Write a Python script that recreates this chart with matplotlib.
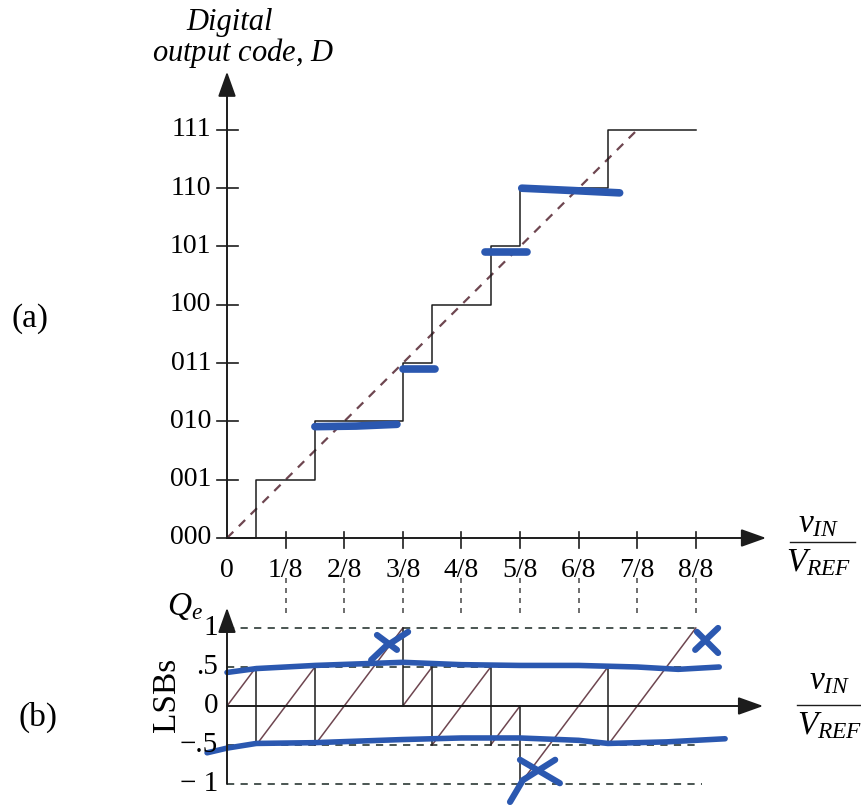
import numpy as np
import matplotlib
matplotlib.use("Agg")
import matplotlib.pyplot as plt

plt.rcParams['font.family'] = ['Liberation Serif', 'DejaVu Serif']
plt.rcParams['mathtext.fontset'] = 'custom'
plt.rcParams['mathtext.rm'] = 'Liberation Serif'
plt.rcParams['mathtext.it'] = 'Liberation Serif:italic'

# ---- data (x in eighths of V_REF = LSBs) ----
codes = ['000', '001', '010', '011', '100', '101', '110', '111']
x_ticks = ['0', '1/8', '2/8', '3/8', '4/8', '5/8', '6/8', '7/8', '8/8']
# input levels where the output code steps up (non-ideal converter)
transitions = [0.5, 1.5, 3.0, 3.5, 4.5, 5.0, 6.5]
full_scale = 8.0

# hand-drawn blue marks on the transfer curve (x, code)
blue_top = [
    ([1.5, 2.2, 2.9], [1.91, 1.92, 1.95]),
    ([3.0, 3.55], [2.90, 2.90]),
    ([4.4, 5.12], [4.91, 4.91]),
    ([5.03, 5.9, 6.7], [6.0, 5.96, 5.92]),
]
# hand-drawn blue envelope lines on the error plot (x, LSB)
blue_upper_x = [0, 0.5, 1.5, 3.0, 4.0, 5.0, 6.0, 7.0, 7.7, 8.4]
blue_upper_y = [0.43, 0.48, 0.52, 0.56, 0.53, 0.52, 0.52, 0.50, 0.47, 0.50]
blue_lower_x = [-0.34, 0, 0.5, 1.5, 3.0, 4.0, 5.0, 6.0, 6.5, 7.5, 8.5]
blue_lower_y = [-0.60, -0.54, -0.48, -0.47, -0.43, -0.41, -0.41, -0.44, -0.48, -0.46, -0.42]
# blue crosses, each as two strokes
crosses = [
    ([2.46, 2.7, 3.09], [0.59, 0.76, 0.95], [2.56, 2.9], [0.91, 0.72]),
    ([4.83, 5.05, 5.6], [-1.23, -0.95, -0.69], [5.0, 5.68], [-0.69, -0.99]),
    ([7.99, 8.38], [0.72, 1.0], [8.02, 8.38], [0.95, 0.68]),
]

black = '#1c1c1c'
maroon = '#6e4650'
dgray = '#3c4844'
blue = '#2b58b0'

fig = plt.figure(figsize=(8.62, 8.05), dpi=100)
W, H = 862, 805
px_x = 58.6      # pixels per eighth
x0 = 227
top_y0, top_py = 538, 58.3
bot_y0, bot_py = 706, 78.0
split = 575

ax1 = fig.add_axes([0, 1 - split / H, 1, split / H])
ax1.set_xlim(-x0 / px_x, (W - x0) / px_x)
ax1.set_ylim((top_y0 - split) / top_py, top_y0 / top_py)
ax1.axis('off')

ax2 = fig.add_axes([0, 0, 1, (H - split) / H])
ax2.set_xlim(-x0 / px_x, (W - x0) / px_x)
ax2.set_ylim((bot_y0 - H) / bot_py, (bot_y0 - split) / bot_py)
ax2.axis('off')

arrow = dict(arrowstyle='-|>,head_length=0.7,head_width=0.25', color=black,
             lw=1.4, mutation_scale=22, shrinkA=0, shrinkB=0)

# ---- (a) transfer characteristic ----
ax1.annotate('', xy=(0, 8.0), xytext=(0, 0), arrowprops=arrow)
ax1.annotate('', xy=(9.2, 0), xytext=(0, 0), arrowprops=arrow)

for k, c in enumerate(codes):
    ax1.plot([-0.17, 0.19], [k, k], color=black, lw=1.2)
    ax1.text(-0.27, k, c, ha='right', va='center', fontsize=20)
for k, t in enumerate(x_ticks):
    if k > 0:
        ax1.plot([k, k], [-0.18, 0.11], color=black, lw=1.2)
    ax1.text(k, -0.55, t, ha='center', va='center', fontsize=20)

# ideal line
ax1.plot([0, 7], [0, 7], color=maroon, lw=1.6, ls=(0, (4, 3.5)))

# staircase
step_x = [0] + transitions + [full_scale]
step_y = list(range(len(codes))) + [len(codes) - 1]
ax1.step(step_x, step_y, where='post', color=black, lw=1.1)

for bx, by in blue_top:
    ax1.plot(bx, by, color=blue, lw=5.5, solid_capstyle='round')

ax1.text(0.05, 8.85, 'Digital', ha='center', va='center', fontsize=22, style='italic')
ax1.text(0.27, 8.32, 'output code, $D$', ha='center', va='center', fontsize=22, style='italic')
ax1.text(-3.36, 3.77, '(a)', ha='center', va='center', fontsize=24)

ax1.text(10.1, -0.02, '$v_{IN}$', ha='center', va='bottom', fontsize=24)
ax1.plot([9.61, 10.72], [-0.07, -0.07], color=black, lw=1.0, clip_on=False)
ax1.text(10.1, -0.16, '$V_{REF}$', ha='center', va='top', fontsize=24)

# ---- (b) quantization error ----
ax2.annotate('', xy=(0, 1.26), xytext=(0, -1.0), arrowprops=arrow)
ax2.annotate('', xy=(9.15, 0), xytext=(0, 0), arrowprops=arrow)

ax2.plot([0, 8], [1, 1], color=dgray, lw=1.3, ls=(0, (4, 3.5)))
ax2.plot([0, 8.1], [-1, -1], color=dgray, lw=1.3, ls=(0, (4, 3.5)))
ax2.plot([0, 8], [0.5, 0.5], color=dgray, lw=1.3, ls=(0, (4, 3.5)))
ax2.plot([0, 8], [-0.5, -0.5], color=dgray, lw=1.3, ls=(0, (4, 3.5)))

# dashed guides from the top tick labels
for k in range(1, 9):
    ax2.plot([k, k], [1.64, 1.13], color='#555555', lw=1.2, ls=(0, (3, 3)), clip_on=False)

# error = vin - D, built from the staircase
for i in range(len(step_x) - 1):
    xa, xb, d = step_x[i], step_x[i + 1], step_y[i]
    ax2.plot([xa, xb], [xa - d, xb - d], color=maroon, lw=1.1)
for k, t in enumerate(transitions):
    ax2.plot([t, t], [t - k, t - (k + 1)], color=black, lw=1.1)

ax2.plot(blue_upper_x, blue_upper_y, color=blue, lw=4, solid_capstyle='round')
ax2.plot(blue_lower_x, blue_lower_y, color=blue, lw=4, solid_capstyle='round')
for ax_, ay_, bx_, by_ in crosses:
    ax2.plot(ax_, ay_, color=blue, lw=4.5, solid_capstyle='round')
    ax2.plot(bx_, by_, color=blue, lw=4.5, solid_capstyle='round')

for v, s in [(1, '1'), (0.5, '.5'), (0, '0'), (-0.5, '\u2212.5'), (-1, '\u2212 1')]:
    ax2.text(-0.15, v, s, ha='right', va='center', fontsize=21)

ax2.text(-0.72, 1.27, '$Q_e$', ha='center', va='center', fontsize=24)
ax2.text(-1.02, 0.14, 'LSBs', ha='center', va='center', fontsize=24, rotation=90)
ax2.text(-3.23, -0.14, '(b)', ha='center', va='center', fontsize=24)

ax2.text(10.28, 0.12, '$v_{IN}$', ha='center', va='bottom', fontsize=24)
ax2.plot([9.73, 10.84], [0.01, 0.01], color=black, lw=1.0, clip_on=False)
ax2.text(10.28, -0.06, '$V_{REF}$', ha='center', va='top', fontsize=24)

fig.savefig('out.png', dpi=100, facecolor='white')
